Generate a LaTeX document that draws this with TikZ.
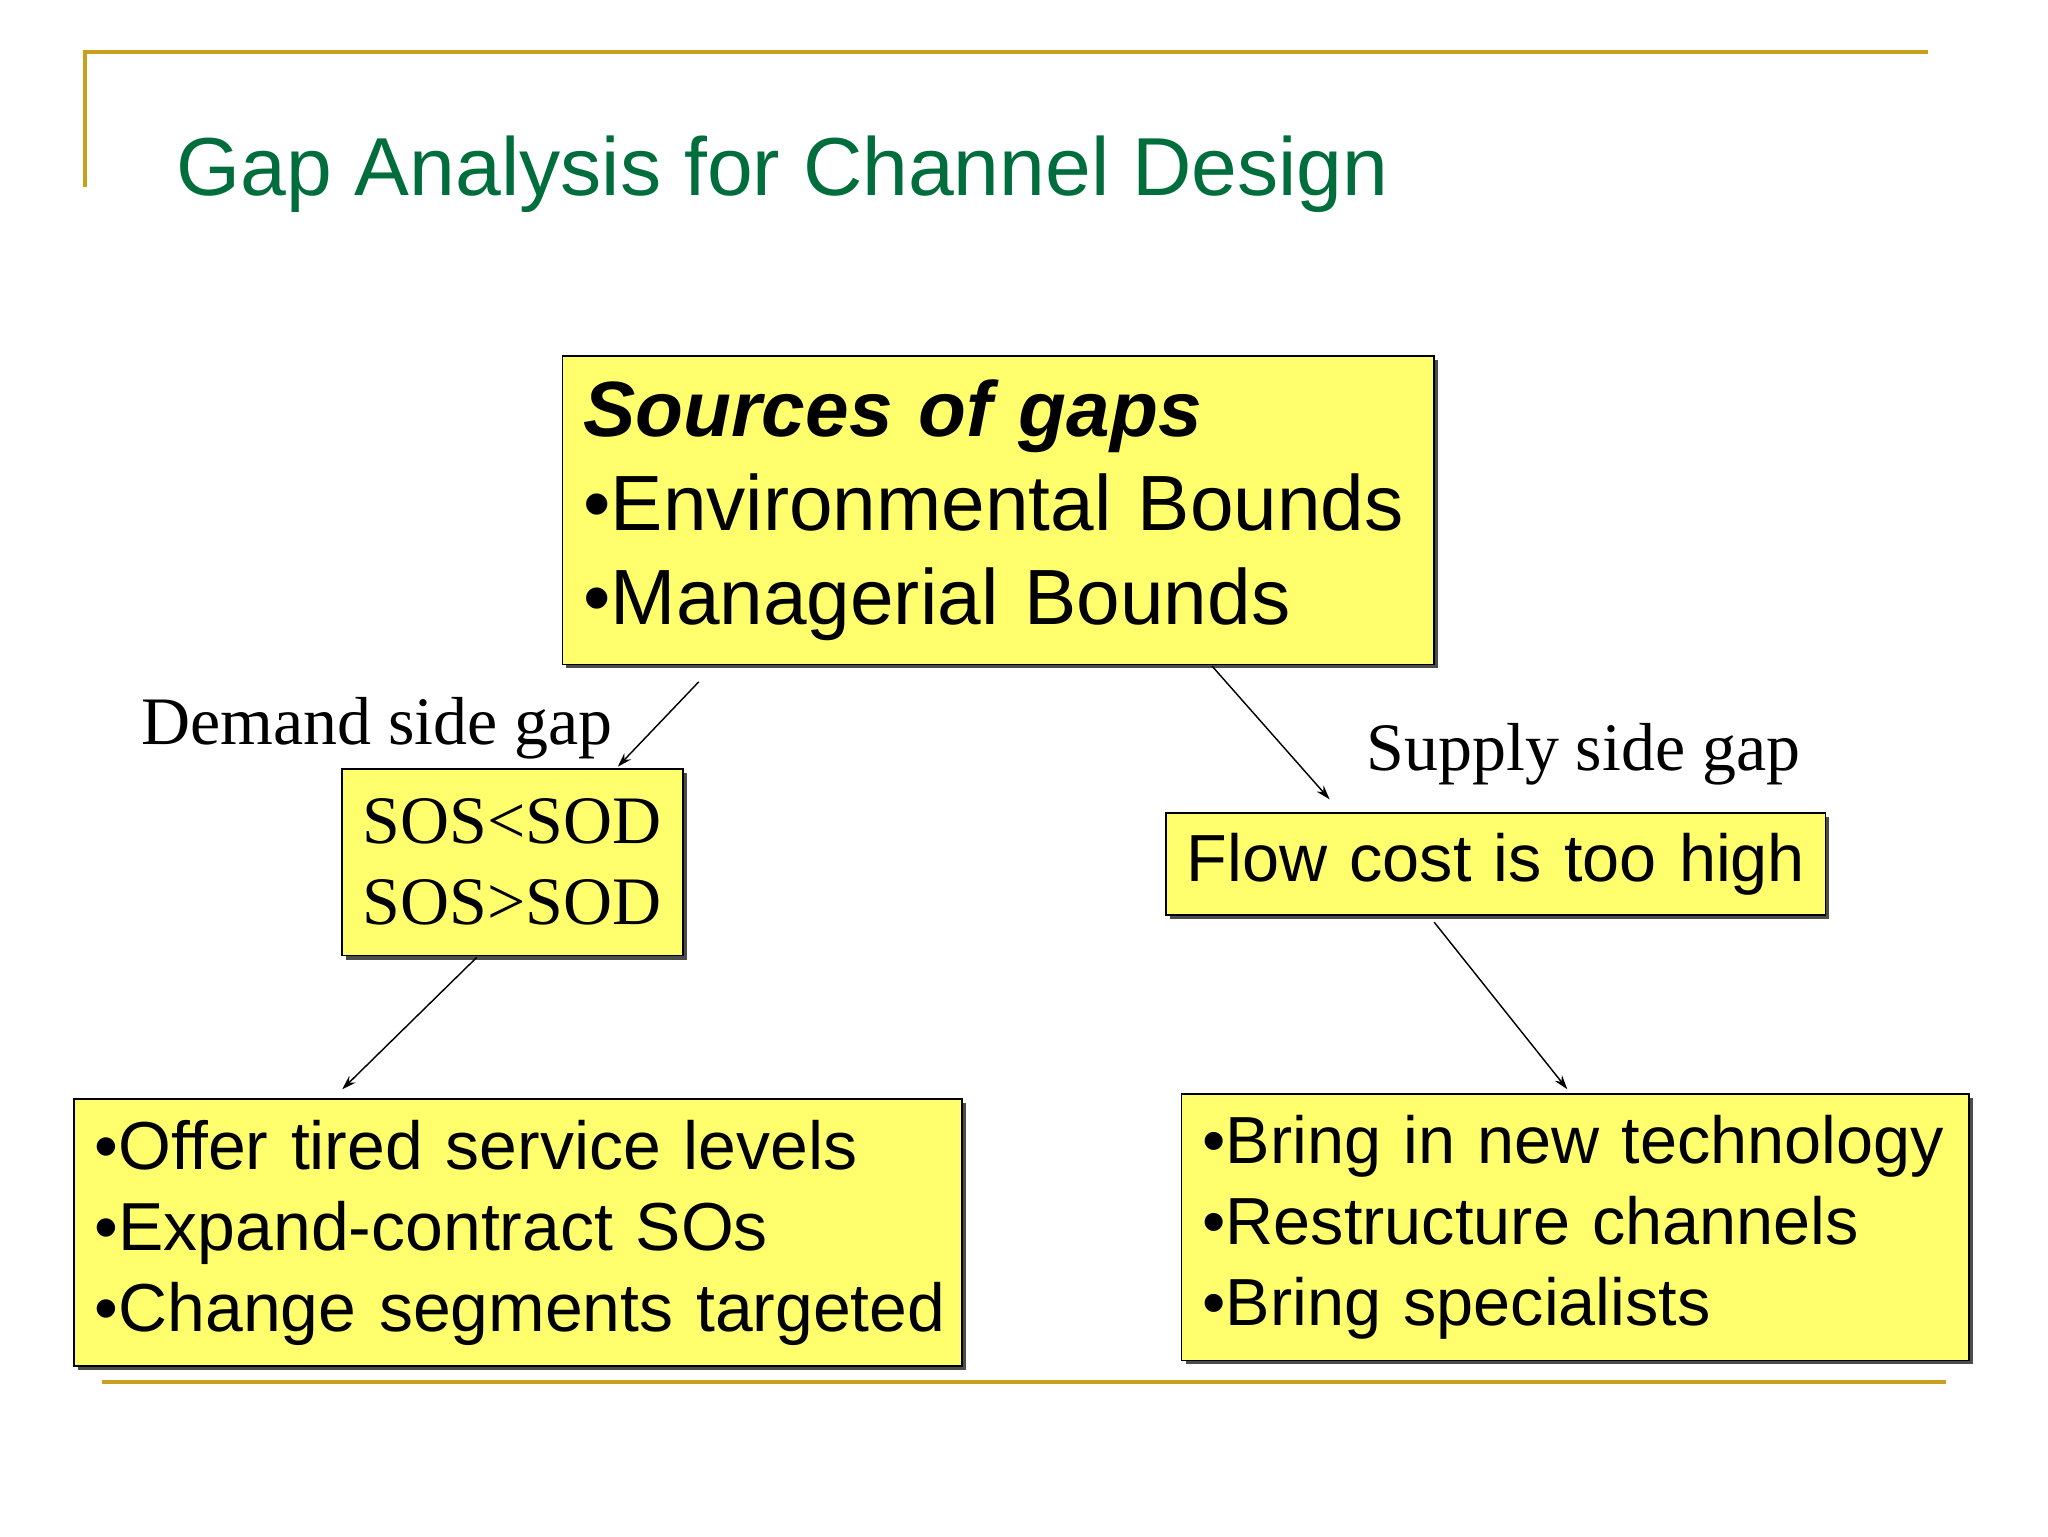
\documentclass[tikz,border=0pt]{standalone}
\usepackage{fontspec}
\setmainfont{Liberation Serif}
\setsansfont{Liberation Sans}
\usetikzlibrary{shadows,arrows.meta}
\definecolor{gold}{RGB}{200,160,30}
\definecolor{ttl}{RGB}{0,110,60}
\definecolor{ybox}{RGB}{255,255,110}
\tikzset{
 box/.style={draw=black,line width=1.3pt,fill=ybox,anchor=north west,inner xsep=16pt,inner ysep=0pt,align=left,
   drop shadow={shadow xshift=3pt,shadow yshift=-3pt,fill=black!70,opacity=1}},
 arr/.style={-{Stealth[length=11pt,width=7pt]},line width=1.1pt}
}
\newcommand{\fs}[2]{\fontsize{#1}{#2}\selectfont}
\begin{document}
\begin{tikzpicture}[x=1pt,y=-1pt]
\useasboundingbox[fill=white] (0,0) rectangle (1568,1176);
\draw[gold,line width=3pt] (65,143) -- (65,40) -- (1476,40);
\draw[gold,line width=3pt] (78,1058) -- (1490,1058);
\node[anchor=base west,text=ttl,font=\sffamily\fs{63}{76},inner sep=0] (title) at (135,150) {Gap Analysis for Channel Design};
\node[box,text width=635pt,minimum height=236pt,font=\sffamily\fs{60}{72}] (src) at (430,272)
 {\mbox{\textbf{\textit{Sources of gaps}}}\\\mbox{•Environmental Bounds}\\\mbox{•Managerial Bounds}};
\node[box,text width=229pt,minimum height=143pt,font=\fs{52}{62},inner xsep=16pt] (sos) at (261,588)
 {\mbox{SOS<SOD}\\\mbox{SOS>SOD}};
\node[box,text width=473pt,minimum height=78pt,font=\sffamily\fs{51}{60}] (flow) at (892,622)
 {\mbox{Flow cost is too high}};
\node[box,text width=648pt,minimum height=204pt,font=\sffamily\fs{52}{62}] (dem) at (56,841)
 {\mbox{•Offer tired service levels}\\\mbox{•Expand-contract SOs}\\\mbox{•Change segments targeted}};
\node[box,text width=571pt,minimum height=204pt,font=\sffamily\fs{51}{62}] (sup) at (904,837)
 {\mbox{•Bring in new technology}\\\mbox{•Restructure channels}\\\mbox{•Bring specialists}};
\node[anchor=base west,font=\fs{52}{60},inner sep=0] (dl) at (108,570) {Demand side gap};
\node[anchor=base west,font=\fs{52}{60},inner sep=0] (sl) at (1046,590) {Supply side gap};
\coordinate (a1) at (535,522); \coordinate (a2) at (473,587);
\coordinate (b1) at (928,510); \coordinate (b2) at (1018,612);
\coordinate (c1) at (365,733); \coordinate (c2) at (262,834);
\coordinate (d1) at (1098,706); \coordinate (d2) at (1200,834);
\draw[arr] (a1) -- (a2);
\draw[arr] (b1) -- (b2);
\draw[arr] (c1) -- (c2);
\draw[arr] (d1) -- (d2);
\end{tikzpicture}
\end{document}
